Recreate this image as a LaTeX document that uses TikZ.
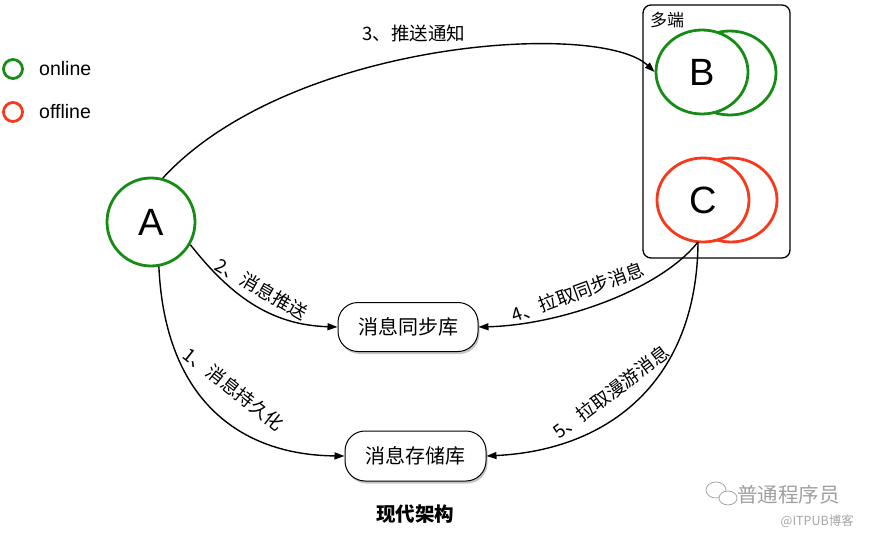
\documentclass[tikz,border=0pt]{standalone}
\usepackage{fontspec}
\setmainfont{Liberation Sans}
\newfontfamily\cjk{Noto Sans CJK SC}
\usetikzlibrary{shapes.geometric,shadows,arrows.meta}
\definecolor{ongreen}{RGB}{22,140,22}
\definecolor{offred}{RGB}{248,56,26}
\begin{document}
\begin{tikzpicture}[x=1pt,y=-1pt,
  lbl/.style={font=\cjk\fontsize{18.5}{18.5}\selectfont, inner sep=0pt},
  conn/.style={line width=1.4pt, -{Triangle[length=10pt,width=7pt]}},
  db/.style={draw, line width=1pt, rounded corners=20pt, fill=white, minimum width=140pt, minimum height=49pt, font=\cjk\fontsize{20}{20}\selectfont, drop shadow={shadow xshift=1.5pt,shadow yshift=-2.5pt,opacity=0.45}},
  peer/.style={ellipse, line width=2.8pt, minimum width=92pt, minimum height=84pt, inner sep=0pt, font=\fontsize{38}{38}\selectfont},
  legend/.style={circle, line width=2.8pt, minimum size=19pt, inner sep=0pt},
  legtext/.style={anchor=west, font=\fontsize{19.5}{19.5}\selectfont, inner sep=0pt}
]
\useasboundingbox (0,0) rectangle (869,534);
% legend
\node[legend, draw=ongreen] (lon) at (13,69) {};
\node[legtext] (lont) at (39,69) {online};
\node[legend, draw=offred] (loff) at (13,112) {};
\node[legtext] (lofft) at (39,112) {offline};
% A
\node[circle, draw=ongreen, line width=2.8pt, minimum size=88pt, inner sep=0pt, font=\fontsize{38}{38}\selectfont] (A) at (151,222) {A};
% multi-terminal box
\node[draw, rounded corners=8pt, line width=1.3pt, minimum width=147pt, minimum height=253pt] (multi) at (716.5,131.5) {};
\node[font=\cjk\fontsize{17}{17}\selectfont, inner sep=0pt] (multit) at (667,20) {多端};
% B
\node[peer, draw=ongreen] (B2) at (730,73) {};
\node[peer, draw=ongreen, fill=white] (B) at (702,72) {B};
% C
\node[peer, draw=offred] (C2) at (731,200) {};
\node[peer, draw=offred, fill=white] (C) at (703,200) {C};
% stores
\node[db] (sync) at (408,327) {消息同步库};
\node[db, minimum width=141pt, minimum height=50pt] (store) at (415.5,456) {消息存储库};
% title
\node[font=\cjk\bfseries\fontsize{19.5}{19.5}\selectfont] (title) at (415,514) {现代架构};
% connectors
\draw[conn] (A.75) .. controls (290,40) and (600,20) .. (B.west);
\draw[conn] (A.-30) .. controls (230,295) and (270,325) .. (sync.west);
\draw[conn] (A.-80) .. controls (165,400) and (240,455) .. (store.west);
\coordinate (cs) at (698,242);
\draw[conn] (cs) .. controls (660,290) and (560,325) .. (sync.east);
\draw[conn] (cs) .. controls (697,380) and (610,450) .. (store.east);
% labels
\node[lbl] (l3) at (414,33) {3、推送通知};
\node[lbl, rotate=-30] (l2) at (262,289) {2、消息推送};
\node[lbl, rotate=-38] (l1) at (234,389) {1、消息持久化};
\node[lbl, rotate=20] (l4) at (578,292) {4、拉取同步消息};
\node[lbl, rotate=37] (l5) at (611,392) {5、拉取漫游消息};
% watermark
\draw[gray!70, line width=0.8pt] (716,490) ellipse (10pt and 8pt);
\draw[gray!70, line width=0.8pt, fill=white] (728,498) ellipse (9pt and 7pt);
\node[font=\cjk\fontsize{20.5}{20.5}\selectfont, text=gray!75, anchor=west, inner sep=0pt] (wm) at (737,495) {普通程序员};
\node[font=\cjk\fontsize{12.5}{12.5}\selectfont, text=gray!70, anchor=east, inner sep=0pt] (wm2) at (854,521) {@ITPUB博客};
\end{tikzpicture}
\end{document}
